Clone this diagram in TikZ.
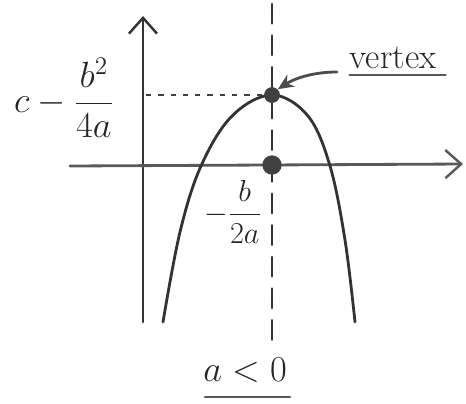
\documentclass[tikz,border=0pt]{standalone}
\usetikzlibrary{arrows.meta}
\begin{document}
\begin{tikzpicture}[x=0.02cm,y=-0.02cm,
  pen/.style={line width=1.6pt,draw=black!80,line cap=round,line join=round},
  tip/.style={-{Straight Barb[length=9pt,width=16pt,line width=1.4pt]}},
  lbl/.style={font=\fontsize{20}{24}\selectfont,text=black!85,inner sep=1pt}]
\useasboundingbox (0,0) rectangle (466,403);
% axes
\coordinate (ybot) at (143,322);
\coordinate (ytop) at (143,16);
\coordinate (xl) at (70,166);
\coordinate (xr) at (463,164);
\draw[pen,tip] (ybot) -- (ytop);
\draw[pen,tip,draw=black!65] (xl) -- (xr);
% dashed symmetry line
\coordinate (dtop) at (272,4);
\coordinate (dbot) at (272,343);
\draw[pen,dash pattern=on 11pt off 7pt] (dtop) -- (dbot);
% parabola
\draw[pen] plot[smooth,tension=0.6] coordinates {(163,322) (180,232) (201,166) (232,116) (272,95) (308,116) (330,166) (345,240) (355,322)};
% dotted level line
\coordinate (lv) at (146,95);
\node[circle,fill=black!75,inner sep=0pt,minimum size=9pt] (vtx) at (272,95) {};
\node[circle,fill=black!75,inner sep=0pt,minimum size=11pt] (root) at (272,165) {};
\draw[line width=1.4pt,draw=black!75,dash pattern=on 3pt off 4pt] (lv) -- (vtx);
% labels
\node[lbl] (cl) at (64,98) {$\displaystyle c-\frac{b^2}{4a}$};
\node[lbl,font=\fontsize{18}{22}\selectfont] (bl) at (233,212) {$\displaystyle -\frac{b}{2a}$};
\node[lbl] (vl) at (393,58) {vertex};
\draw[pen,draw=black!65] (vl.south west) ++(2,4) coordinate (u1) -- ++(96,0) coordinate (u2);
\coordinate (as) at (337,72);
\draw[pen,-{Stealth[length=9pt,width=8pt]},draw=black!70] (as) .. controls (310,72) and (292,80) .. (vtx.north east);
\node[lbl] (al) at (245,370) {$a<0$};
\coordinate (aa) at (205,397);
\coordinate (ab) at (290,397);
\draw[pen,draw=black!65] (aa) -- (ab);
\end{tikzpicture}
\end{document}
